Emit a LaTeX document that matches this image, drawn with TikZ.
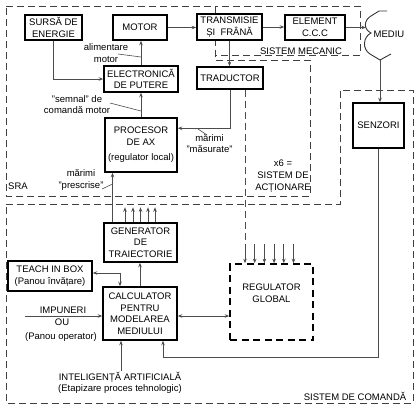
\documentclass[tikz,border=0pt]{standalone}
\usepackage{fontspec}
\setmainfont{Liberation Sans}
\usetikzlibrary{arrows.meta,calc}
\begin{document}
\begin{tikzpicture}[x=1pt,y=-1pt,
 box/.style={draw=black,line width=1.5pt,fill=white,inner sep=0pt,align=center,font=\fontsize{9.5}{11.5}\selectfont},
 lbl/.style={inner sep=0pt,align=center,font=\fontsize{9.5}{11.5}\selectfont},
 conn/.style={draw=black!70,line width=0.8pt},
 tip/.style={-{Stealth[length=4.5pt,width=3.5pt]}},
 arr/.style={conn,tip},
 darr/.style={conn,{Stealth[length=4.5pt,width=3.5pt]}-{Stealth[length=4.5pt,width=3.5pt]}},
 leader/.style={draw=black!70,line width=0.6pt},
 zone/.style={draw=black!75,line width=0.9pt,dash pattern=on 7pt off 4pt},
 dbox/.style={box,dash pattern=on 7pt off 4.5pt,line width=1.6pt},
]
\useasboundingbox (0,0) rectangle (420,409);

% zones
\draw[zone] (6,6) -- (215,6) -- (215,60) -- (310,60) -- (310,196) -- (6,196) -- cycle;
\draw[zone] (215,6) rectangle (360,55);
\draw[zone] (6,204) -- (340,204) -- (340,90) -- (413,90) -- (413,403) -- (6,403) -- cycle;

% boxes
\node[box,minimum width=57pt,minimum height=25pt] (sursa) at (53.5,27.5) {SURSĂ DE\\ENERGIE};
\node[box,minimum width=54pt,minimum height=25pt] (motor) at (140,27.5) {MOTOR};
\node[box,minimum width=65pt,minimum height=26pt] (trans) at (229.5,27) {TRANSMISIE\\ȘI~~FRÂNĂ};
\node[box,minimum width=60pt,minimum height=25pt] (elem) at (315,27.5) {ELEMENT\\C.C.C};
\node[box,minimum width=74pt,minimum height=26pt] (elec) at (141,79) {ELECTRONICĂ\\DE PUTERE};
\node[box,minimum width=66pt,minimum height=22pt] (trad) at (230,78) {TRADUCTOR};
\node[box,minimum width=72pt,minimum height=54pt] (proc) at (141,145) {PROCESOR\\DE AX\\[4pt](regulator local)};
\node[box,minimum width=73pt,minimum height=39pt] (gen) at (140.5,242.5) {GENERATOR\\DE\\TRAIECTORIE};
\node[box,minimum width=84pt,minimum height=30pt] (teach) at (50,276) {TEACH IN BOX\\(Panou învățare)};
\node[box,minimum width=74pt,minimum height=53pt] (calc) at (140,313.5) {CALCULATOR\\PENTRU\\MODELAREA\\MEDIULUI};
\node[dbox,minimum width=83pt,minimum height=76pt] (reg) at (271.5,302) {REGULATOR\\GLOBAL\\[6pt]};
\node[box,minimum width=51pt,minimum height=45pt] (senz) at (378.5,125.5) {SENZORI};

% labels
\node[lbl] (lalim) at (106,53) {alimentare\\motor};
\node[lbl] (lsemn) at (77,104.5) {"semnal" de\\comandă motor};
\node[lbl] (lmas) at (209.5,143.5) {mărimi\\"măsurate"};
\node[lbl] (lpres) at (81,180) {mărimi\\"prescrise"};
\node[lbl] (lsra) at (18,186) {SRA};
\node[lbl] (lmec) at (301,51) {SISTEM MECANIC};
\node[lbl,font=\fontsize{9.5}{12}\selectfont] (lact) at (283,176) {x6 =\\SISTEM DE\\ACȚIONARE};
\node[lbl] (lcom) at (355,396) {SISTEM DE COMANDĂ};
\node[lbl] (lmed) at (389,34) {MEDIU};
\node[lbl] (limp) at (63,310) {IMPUNERI};
\node[lbl] (lou) at (62,322) {OU};
\node[lbl] (lpan) at (61,337) {(Panou operator)};
\node[lbl] (lai) at (120,383) {INTELIGENȚĂ ARTIFICIALĂ\\(Etapizare proces tehnologic)};

% medium outline
\draw[black!80,line width=0.9pt] (387,11) -- (379,11) -- (371,16)
  .. controls (364,20) and (363,29) .. (371,33)
  .. controls (363,37) and (362,49) .. (370,54)
  -- (380,60) -- (391,54);

% coordinates
\coordinate (medin) at (366,27.5);
\coordinate (medout) at (380,60);
\coordinate (imp) at (25,316);
\coordinate (aitop) at (121,371);
\coordinate (sb) at (163,357);

% connectors
\draw[arr] (motor.east) -- (motor.east -| trans.west);
\draw[arr] (trans.east) -- (trans.east -| elem.west);
\draw[arr] (elem.east) -- (medin);
\draw[arr] (sursa.south) |- (elec.west);
\draw[arr] (elec.north) -- (elec.north |- motor.south);
\draw[arr] (proc.north) -- (proc.north |- elec.south);
\draw[arr] (trans.south) -- (trans.south |- trad.north);
\draw[arr] (trad.south) |- ($(proc.north east)+(0,11)$);
\draw[arr] ([xshift=-28pt]gen.north) -- ([xshift=-28pt]gen.north |- proc.south);
\foreach \dx in {-15.5,-7.5,0,7.5,14.5}
  \draw[arr] ([xshift=\dx pt]gen.north) -- ++(0,-15);
\draw[arr] (calc.north) -- (calc.north |- gen.south);
\draw[darr] ([yshift=3pt]teach.east) -| ([xshift=-20pt]calc.north);
\draw[arr] (imp) -- (imp -| calc.west);
\draw[arr] (aitop) -- (aitop |- calc.south);
\draw[darr] ([yshift=-2.5pt]calc.east) -- ([yshift=-2.5pt]calc.east -| reg.west);
\draw[arr] (senz.south) |- (sb) -- (sb |- calc.south);
\draw[arr] (medout) -- (medout |- senz.north);
\draw[conn,dash pattern=on 7pt off 4pt] ([xshift=15pt]trad.south) -- ([xshift=-26.5pt,yshift=19pt]reg.north);
\foreach \dx in {-26.5,-16.8,-7.1,2.6,12.3,22}
  \draw[arr] ([xshift=\dx pt,yshift=19pt]reg.north) -- ([xshift=\dx pt]reg.north);

% leaders
\draw[leader] (118,54) -- (141,57);
\draw[leader] (110,103) -- (141,111);
\draw[leader] (198,129) -- (207,135);
\draw[leader] (102,189) -- (112.5,184);
\end{tikzpicture}
\end{document}
